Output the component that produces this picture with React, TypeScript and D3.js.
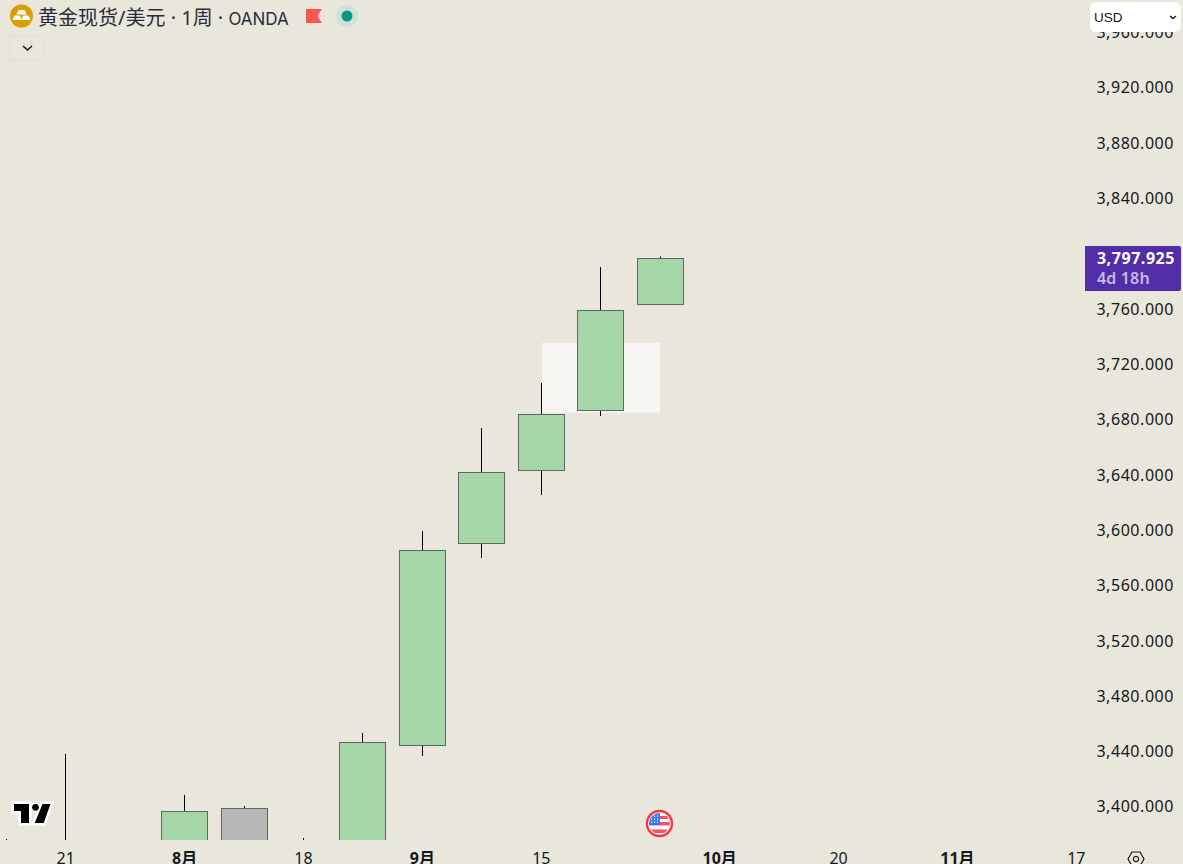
import React from "react";
import * as d3 from "d3";

const indices = [0, 1, 2, 3, 4, 5, 6, 7, 8, 9, 10, 11];
const opens = [3330, 3345, 3335, 3350, 3350, 3330, 3340, 3443.8, 3589.9, 3643, 3686.4, 3762.7];
const closes = [3345, 3335, 3340, 3396.4, 3398.6, 3340, 3446.3, 3584.8, 3641.6, 3683.5, 3758.4, 3796];
const highs = [3376.1, 3437.6, 3360, 3408, 3400, 3376.9, 3452.8, 3598.9, 3673.4, 3705.9, 3789.8, 3797.4];
const lows = [3310, 3310, 3320, 3330, 3335, 3320, 3330, 3436.2, 3579.4, 3624.9, 3682.1, 3762.7];
const neutralIndex = 4;

const priceTicks = [3400, 3440, 3480, 3520, 3560, 3600, 3640, 3680, 3720, 3760, 3800, 3840, 3880, 3920, 3960];
const timeTickIdx = [1, 3, 5, 7, 9, 12, 14, 16, 18];
const timeTickLabels = ["21", "8月", "18", "9月", "15", "10月", "20", "11月", "17"];
const majorTimeTicks = ["8月", "9月", "10月", "11月"];

const titleCjk = "黄金现货/美元 · 1周 · ";
const titleExchange = "OANDA";
const lastPriceLabel = "3,797.925";
const countdown = "4d 18h";
const currency = "USD";
const zoneIdx = [9, 11];
const zonePrice = [3684.5, 3735];

const W = 1183;
const H = 864;
const paneBottom = 840;
const BG = "#e9e7dc";
const FONT = "'Noto Sans', 'Noto Sans CJK SC', sans-serif";
const AXIS_FONT = "'Noto Sans', sans-serif";

export default function App() {
  const y = d3.scaleLinear().domain([3400, 3920]).range([806, 87]);
  const x = d3.scaleLinear().domain([0, 11]).range([6.25, 660.2]);
  const fmt = d3.format(",.3f");
  const flagClipId = "flagClip";
  const zoneLeft = Math.round(x(zoneIdx[0]) + 0.7);
  const zoneRight = Math.round(x(zoneIdx[1]));
  return (
    <svg
      width={W}
      height={H}
      viewBox={`0 0 ${W} ${H}`}
      style={{ position: "fixed", left: 0, top: 0, display: "block" }}
    >
      <defs>
        <clipPath id="pane">
          <rect x={0} y={0} width={1085} height={paneBottom} />
        </clipPath>
        <clipPath id={flagClipId}>
          <circle cx={659.5} cy={823.5} r={10.5} />
        </clipPath>
      </defs>
      <rect width={W} height={H} fill={BG} />

      <g clipPath="url(#pane)">
        <rect
          x={zoneLeft}
          y={y(zonePrice[1])}
          width={zoneRight - zoneLeft}
          height={y(zonePrice[0]) - y(zonePrice[1])}
          fill="#f7f6f2"
        />
        {indices.map((i) => {
          const cx = Math.floor(x(i)) + 0.5;
          const top = Math.round(y(Math.max(opens[i], closes[i]))) + 0.5;
          const bottom = Math.round(y(Math.min(opens[i], closes[i]))) + 0.5;
          return (
            <g key={i}>
              <line x1={cx} x2={cx} y1={y(highs[i])} y2={y(lows[i])} stroke="#000" strokeWidth={1} />
              <rect
                x={cx - 23}
                y={top}
                width={46}
                height={bottom - top}
                fill={i === neutralIndex ? "#b7b7b7" : "#a5d6a7"}
                stroke="#626662"
                strokeWidth={1}
              />
            </g>
          );
        })}
      </g>

      {/* price axis */}
      {priceTicks.map((p) => (
        <text
          key={p}
          x={1174}
          y={y(p) + 0.7}
          dy="0.36em"
          textAnchor="end"
          fontFamily={AXIS_FONT}
          fontSize={16}
          letterSpacing={0.55}
          fill="#131722"
        >
          {fmt(p)}
        </text>
      ))}

      {/* time axis */}
      {timeTickIdx.map((t, k) => {
        const major = majorTimeTicks.includes(timeTickLabels[k]);
        return (
          <text
            key={t}
            x={x(t)}
            y={864}
            textAnchor="middle"
            fontFamily={FONT}
            fontSize={16}
            fontWeight={major ? 700 : 400}
            fill="#131722"
          >
            {timeTickLabels[k]}
          </text>
        );
      })}
      <g transform="translate(1136,859)" fill="none" stroke="#131722" strokeWidth={1.2}>
        <path d="M-8,0 L-4,-7 L4,-7 L8,0 L4,7 L-4,7 Z" />
        <circle r={2.6} />
      </g>

      {/* last price label */}
      <path d="M1085,246 H1179 a2,2 0 0 1 2,2 V289 a2,2 0 0 1 -2,2 H1085 Z" fill="#512da8" />
      <text x={1175} y={258} dy="0.36em" textAnchor="end" fontFamily={AXIS_FONT} fontSize={16} fontWeight={700} letterSpacing={0.55} fill="#fff">
        {lastPriceLabel}
      </text>
      <text x={1097} y={278} dy="0.36em" fontFamily={AXIS_FONT} fontSize={16} fontWeight={600} letterSpacing={0.15} fill="#c5bbe2">
        {countdown}
      </text>

      {/* currency button */}
      <rect x={1090} y={2} width={91} height={30} rx={6} fill="#fff" />
      <text x={1094} y={17} dy="0.36em" fontFamily="'Liberation Sans', sans-serif" fontSize={13.5} fill="#131722">
        {currency}
      </text>
      <path d="M1170,16 L1173,18.5 L1176,16" fill="none" stroke="#131722" strokeWidth={1.4} />

      {/* header */}
      <circle cx={21.5} cy={16} r={11.5} fill="#dd9c00" />
      <g fill="#fff">
        <path d="M18.5,10 H24.5 L26.5,14.5 H16.5 Z" />
        <path d="M14.5,15.5 H20 L21.5,20 H12.5 Z" />
        <path d="M23,15.5 H28.5 L30.5,20 H21.5 Z" />
      </g>
      <text x={38} y={17.5} dy="0.36em" fontFamily={FONT} fontSize={20} fill="#2a2e39">
        {titleCjk}
        <tspan fontFamily="Inter, sans-serif" fontSize={17}>{titleExchange}</tspan>
      </text>
      <path d="M306,9 H322 L317.5,16 L322,23 H306 Z" fill="#ff5252" />
      <circle cx={347} cy={16} r={11} fill="#cde3da" />
      <circle cx={347} cy={16} r={5.5} fill="#089981" />
      <rect x={9.5} y={35.5} width={35} height={25} rx={4} fill="none" stroke="#dedcd3" />
      <path d="M23,46 L27.5,50 L32,46" fill="none" stroke="#131722" strokeWidth={1.5} />

      {/* TradingView mark */}
      <g>
        <path
          d="M14,804 H29 V823 H21 V811 H14 Z M42.5,804 H50.5 L43.7,823 H34.7 Z"
          fill="#000"
          stroke="#fff"
          strokeWidth={5}
          strokeLinejoin="miter"
          paintOrder="stroke"
        />
        <circle cx={35.5} cy={807.3} r={3.4} fill="#000" stroke="#fff" strokeWidth={3} paintOrder="stroke" />
      </g>

      {/* event flag */}
      <circle cx={659.5} cy={823.5} r={12.5} fill="#fff" stroke="#f23645" strokeWidth={2.4} />
      <g clipPath={`url(#${flagClipId})`}>
        <rect x={649} y={816} width={21} height={3} fill="#f7525f" />
        <rect x={649} y={822} width={21} height={3.5} fill="#f7525f" />
        <rect x={649} y={829.5} width={21} height={3.5} fill="#f7525f" />
        <rect x={649} y={813} width={11} height={12} fill="#3179f5" />
        {d3.range(3).flatMap((r) =>
          d3.range(3).map((c) => (
            <rect key={`${r}-${c}`} x={651 + c * 3} y={815.5 + r * 3} width={1.2} height={1.2} fill="#fff" />
          ))
        )}
      </g>
    </svg>
  );
}
